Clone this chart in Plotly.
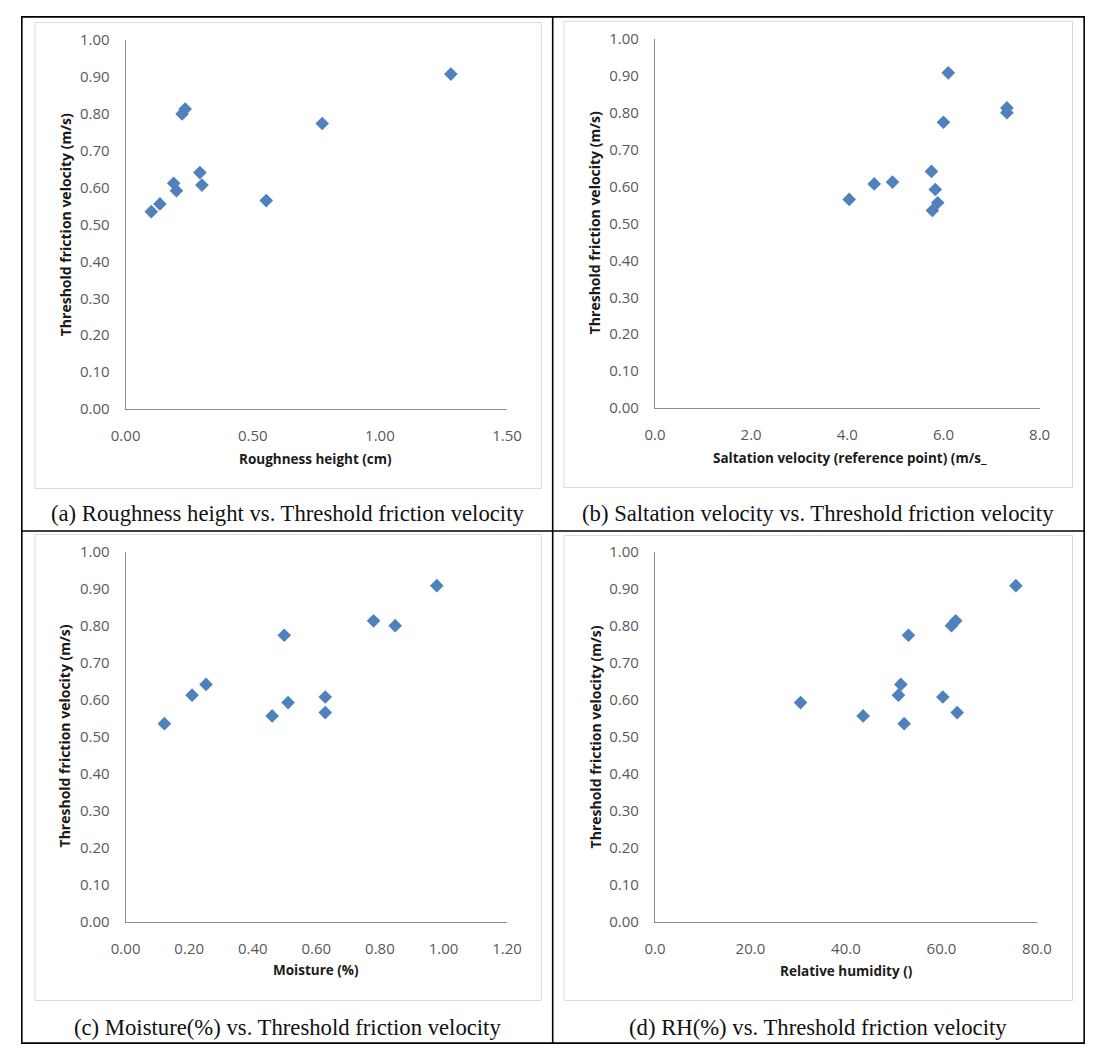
import plotly.graph_objects as go

# ---------------- data ----------------
threshold_velocity = [0.535, 0.556, 0.612, 0.592, 0.800, 0.813, 0.641, 0.607, 0.565, 0.774, 0.908]
roughness_height = [0.101, 0.135, 0.189, 0.200, 0.222, 0.234, 0.292, 0.300, 0.553, 0.773, 1.279]
saltation_velocity = [5.77, 5.88, 4.94, 5.83, 7.32, 7.32, 5.75, 4.56, 4.04, 6.00, 6.10]
moisture = [0.122, 0.461, 0.209, 0.511, 0.848, 0.780, 0.253, 0.628, 0.628, 0.499, 0.979]
relative_humidity = [52.2, 43.6, 51.0, 30.5, 62.1, 63.0, 51.5, 60.3, 63.3, 53.1, 75.6]

y_title = "Threshold friction velocity (m/s)"
x_titles = ["Roughness height (cm)", "Saltation velocity (reference point) (m/s_",
            "Moisture (%)", "Relative humidity ()"]
captions = ["(a) Roughness height vs. Threshold friction velocity",
            "(b) Saltation velocity vs. Threshold friction velocity",
            "(c) Moisture(%) vs. Threshold friction velocity",
            "(d) RH(%) vs. Threshold friction velocity"]
x_ranges = [[0, 1.5], [0, 8.0], [0, 1.2], [0, 80.0]]
x_dticks = [0.5, 2.0, 0.2, 20.0]
x_formats = [".2f", ".1f", ".2f", ".1f"]
x_series = [roughness_height, saltation_velocity, moisture, relative_humidity]

# ---------------- layout geometry (page pixels) ----------------
W, H = 1105, 1057

def fx(p):
    return p / W

def fy(p):
    return 1 - p / H

# plot areas: (left, right, top, bottom)
areas = [(113.7, 505.8, 29.7, 405.7),
         (657.8, 1053.2, 28.4, 404.7),
         (113.7, 505.8, 551.1, 928.1),
         (657.8, 1050.4, 551.1, 928.1)]
boxes = [(20.4, 541, 11.8, 486.8),
         (564.3, 1087, 10.5, 485.8),
         (20.4, 541, 533.5, 1008.5),
         (564.3, 1087, 534.5, 1008.5)]
caption_pos = [(280, 512), (825, 512), (280, 1036.5), (825.7, 1036.5)]
xtitle_pos = [(309, 457), (858.4, 455.7), (309, 978), (854.8, 978.7)]
ytitle_pos = [(52.8, 218), (596, 215.5), (51, 738.8), (597, 739.6)]

MARKER = "#4F81BD"
TICK_COLOR = "#595959"
AXIS_COLOR = "#8C8C8C"
tick_font = dict(family="Open Sans, Arial, sans-serif", size=15, color=TICK_COLOR)
xtitle_font = dict(family="Open Sans, Arial, sans-serif", size=13.5, color="#1A1A1A")
ytitle_font = dict(family="Open Sans, Arial, sans-serif", size=14, color="#1A1A1A")

fig = go.Figure()
layout = dict(width=W, height=H, margin=dict(l=0, r=0, t=0, b=0, pad=0),
              autosize=False,
              paper_bgcolor="white", plot_bgcolor="white", showlegend=False)

annotations = []
shapes = []
for i in range(4):
    sfx = "" if i == 0 else str(i + 1)
    l, r, t, b = areas[i]
    fig.add_trace(go.Scatter(
        x=x_series[i], y=threshold_velocity, mode="markers",
        marker=dict(symbol="diamond", size=10.5, color=MARKER, line=dict(width=0)),
        xaxis="x" + sfx, yaxis="y" + sfx, hoverinfo="x+y"))
    layout["xaxis" + sfx] = dict(
        domain=[fx(l), fx(r)], anchor="y" + sfx, range=x_ranges[i],
        dtick=x_dticks[i], tick0=0, tickformat=x_formats[i],
        showgrid=False, zeroline=False, showline=True, linecolor=AXIS_COLOR,
        linewidth=1, ticks="", ticklabelstandoff=13, tickfont=tick_font,
        fixedrange=True)
    layout["yaxis" + sfx] = dict(
        domain=[fy(b), fy(t)], anchor="x" + sfx, range=[0, 1.0],
        dtick=0.1, tick0=0, tickformat=".2f",
        showgrid=False, zeroline=False, showline=True, linecolor=AXIS_COLOR,
        linewidth=1, ticks="", ticklabelstandoff=12, tickfont=tick_font,
        fixedrange=True)
    # chart area border
    bl, br, bt, bb = boxes[i]
    shapes.append(dict(type="rect", xref="paper", yref="paper",
                       x0=fx(bl), x1=fx(br), y0=fy(bb), y1=fy(bt),
                       line=dict(color="#D9D9D9", width=1), layer="below"))
    # axis titles
    annotations.append(dict(text="<b>" + x_titles[i] + "</b>", xref="paper", yref="paper",
                            x=fx(xtitle_pos[i][0]), y=fy(xtitle_pos[i][1]),
                            xanchor="center", yanchor="middle", showarrow=False,
                            font=xtitle_font))
    annotations.append(dict(text="<b>" + y_title + "</b>", xref="paper", yref="paper",
                            x=fx(ytitle_pos[i][0]), y=fy(ytitle_pos[i][1]),
                            xanchor="center", yanchor="middle", showarrow=False,
                            textangle=-90, font=ytitle_font))
    # caption
    annotations.append(dict(text=captions[i], xref="paper", yref="paper",
                            x=fx(caption_pos[i][0]), y=fy(caption_pos[i][1]),
                            xanchor="center", yanchor="middle", showarrow=False,
                            font=dict(family="Liberation Serif, Times New Roman, serif",
                                      size=22.7, color="#111111")))

# table frame
tbl = dict(color="black", width=1.6)
shapes.append(dict(type="rect", xref="paper", yref="paper",
                   x0=fx(7), x1=fx(1099), y0=fy(1052), y1=fy(6), line=tbl))
shapes.append(dict(type="line", xref="paper", yref="paper",
                   x0=fx(552.7), x1=fx(552.7), y0=fy(1052), y1=fy(6), line=tbl))
shapes.append(dict(type="line", xref="paper", yref="paper",
                   x0=fx(7), x1=fx(1099), y0=fy(530), y1=fy(530), line=tbl))

layout["annotations"] = annotations
layout["shapes"] = shapes
fig.update_layout(**layout)

fig.write_html("out.html", config={"displayModeBar": False},
               post_script="document.body.style.margin='0px';document.body.style.overflow='hidden';")
